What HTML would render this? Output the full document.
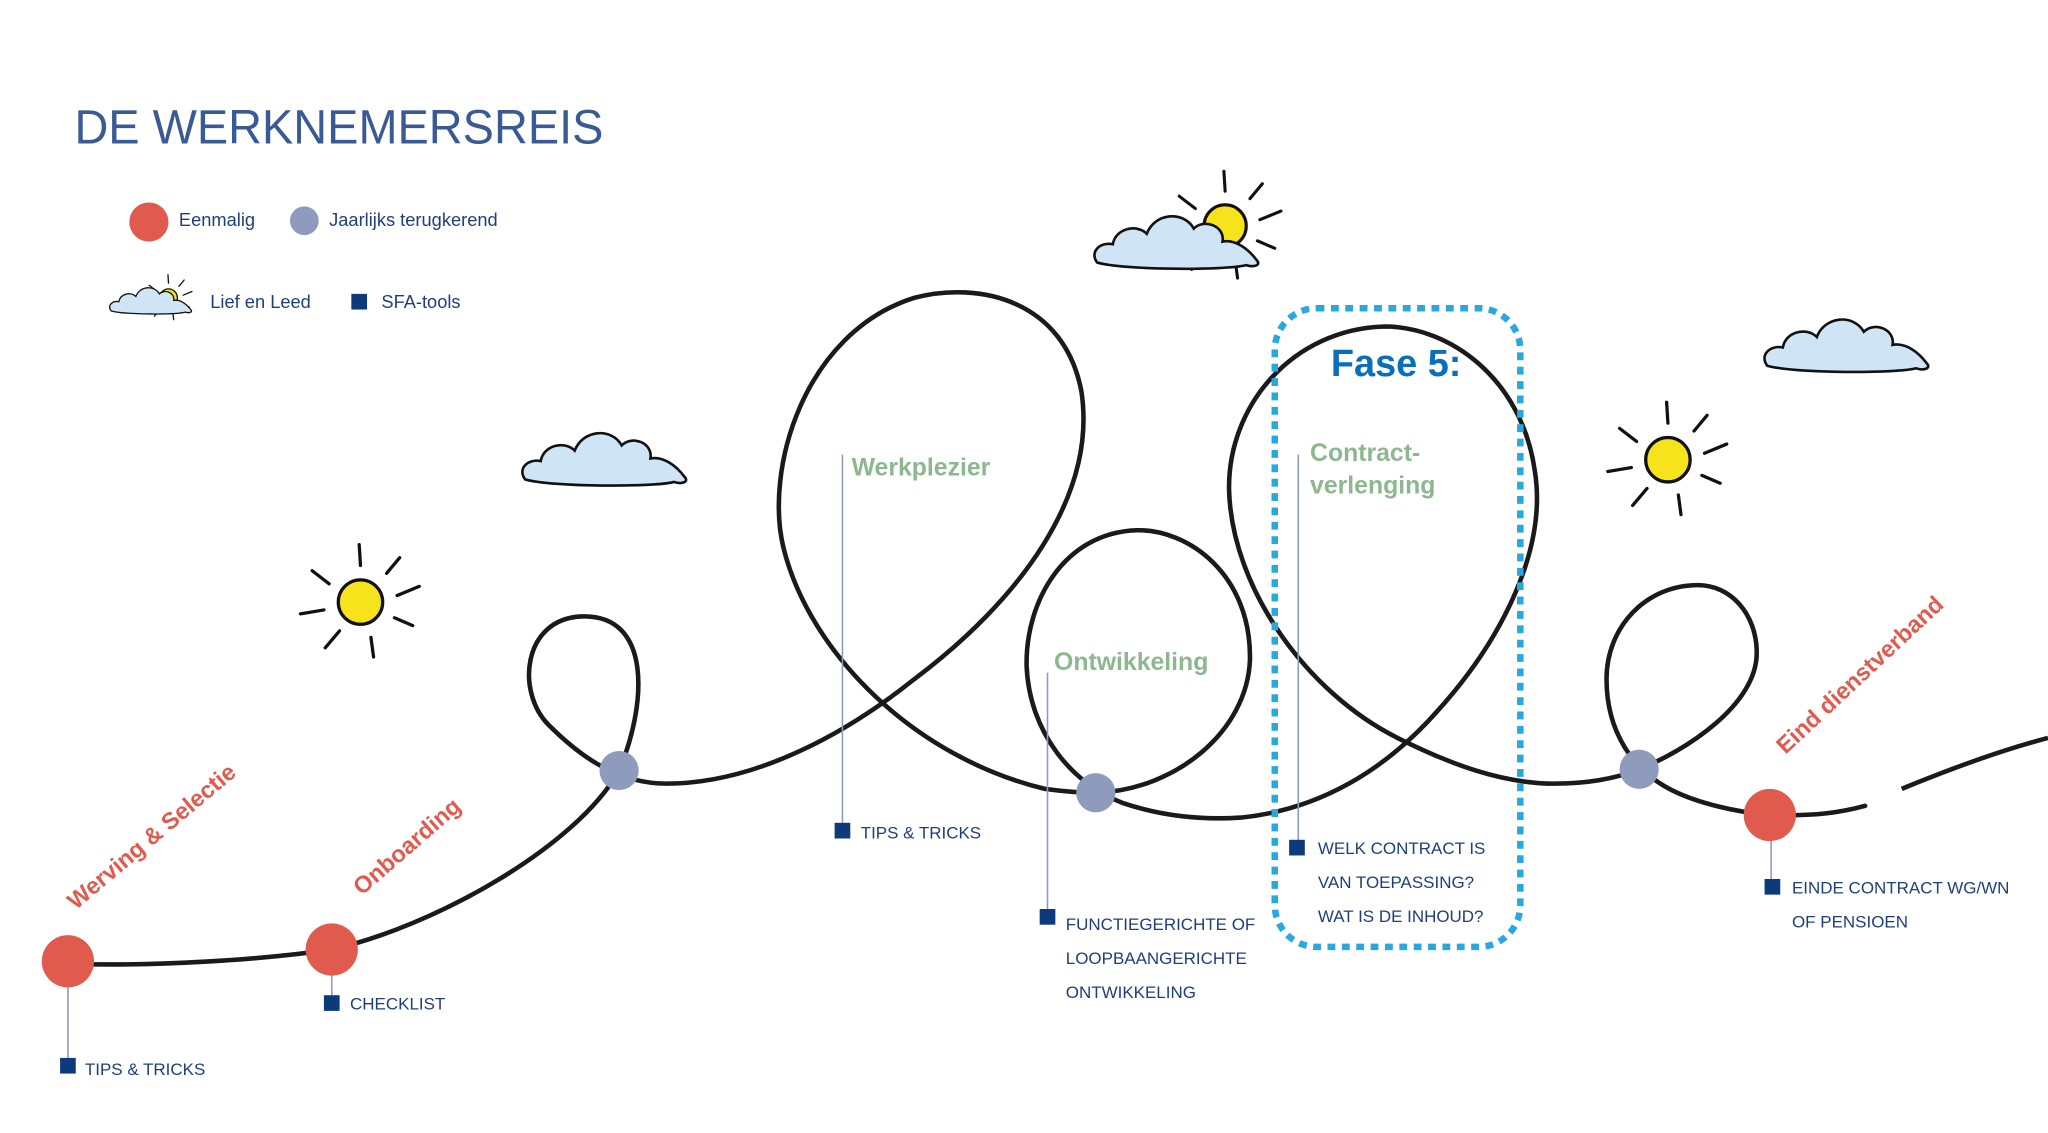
<!DOCTYPE html>
<html><head><meta charset="utf-8"><style>
html,body{margin:0;padding:0;background:#fff;width:2048px;height:1133px;overflow:hidden}
svg{display:block}
text{font-family:"Liberation Sans",sans-serif}
</style></head><body>
<svg width="2048" height="1133" viewBox="0 0 1568 867.5" preserveAspectRatio="none" xmlns="http://www.w3.org/2000/svg">
<defs>
<g id="cloud">
<path d="M-60,12 C-66,4 -58,-4 -48,-2 C-46,-14 -30,-18 -22,-10 C-16,-26 6,-28 14,-14 C22,-22 38,-16 36,-4 C46,-6 56,2 62,10 C66,14 60,16 54,14 C40,18 -40,18 -60,12 Z" fill="#cfe5f5" stroke="#111" stroke-width="2"/>
</g>
<g id="sun">
<circle r="17" fill="#f7e31c" stroke="#111" stroke-width="2.5"/>
<g stroke="#111" stroke-width="2.5" stroke-linecap="round">
<line x1="0" y1="-28" x2="-1" y2="-44"/><line x1="20" y1="-22" x2="30" y2="-34"/>
<line x1="28" y1="-5" x2="45" y2="-12"/><line x1="26" y1="12" x2="40" y2="18"/>
<line x1="8" y1="27" x2="10" y2="42"/><line x1="-16" y1="22" x2="-27" y2="35"/>
<line x1="-28" y1="6" x2="-46" y2="9"/><line x1="-24" y1="-14" x2="-37" y2="-24"/>
</g></g>
</defs>

<text x="57" y="110" font-size="37" fill="#3a5a95" textLength="405" lengthAdjust="spacingAndGlyphs">DE WERKNEMERSREIS</text>

<circle cx="114" cy="170" r="15" fill="#e05a4e"/>
<text x="137" y="173" font-size="14" fill="#1f3f7a">Eenmalig</text>
<circle cx="233" cy="169" r="11" fill="#8f9bbd"/>
<text x="252" y="173" font-size="14" fill="#1f3f7a">Jaarlijks terugkerend</text>
<g transform="translate(115,232) scale(0.5)"><use href="#sun" transform="translate(28,-8) scale(0.8)"/><use href="#cloud"/></g>
<text x="161" y="236" font-size="14" fill="#1f3f7a">Lief en Leed</text>
<rect x="269" y="225" width="12" height="12" fill="#0d3a7a"/>
<text x="292" y="236" font-size="14" fill="#1f3f7a">SFA-tools</text>

<use href="#sun" x="276" y="461"/>
<use href="#sun" x="1277" y="352"/>
<use href="#cloud" transform="translate(462,355)"/>
<use href="#cloud" transform="translate(1413,268)"/>
<g transform="translate(938,173)"><use href="#sun" transform="scale(0.95)"/><use href="#cloud" transform="translate(-38,16)"/></g>

<path fill="none" stroke="#1a1a1a" stroke-width="3.5" stroke-linecap="round" d="M52,738 C120,740 200,735 254,727 C330,710 440,650 474,590 C495,540 500,470 445,472 C400,474 395,530 420,555 C440,575 470,600 510,600 C580,600 650,560 700,520 C780,460 840,380 828,300 C815,230 750,215 700,228 C615,255 585,360 600,420 C620,500 700,580 800,604 C815,606 825,607 839,607 C900,605 955,560 957,505 C958,440 910,405 870,406 C815,408 785,460 786,510 C788,560 820,600 860,615 C890,625 920,628 950,626 C1010,620 1060,590 1100,545 C1150,490 1185,420 1175,360 C1165,290 1110,250 1060,250 C990,252 940,310 941,375 C943,450 1000,530 1070,565 C1110,585 1150,600 1190,600 C1220,600 1240,595 1255,589 C1290,575 1345,540 1345,500 C1345,470 1325,448 1300,448 C1260,448 1230,480 1230,520 C1230,560 1250,590 1280,605 C1300,615 1330,622 1355,624 C1390,625 1410,622 1428,617"/>
<path fill="none" stroke="#1a1a1a" stroke-width="3.5" d="M1456,604 C1490,590 1530,575 1568,565"/>

<rect x="976" y="236" width="188" height="489" rx="32" fill="none" stroke="#29a8e0" stroke-width="5" stroke-dasharray="6 5"/>
<text x="1019" y="288" font-size="29" font-weight="bold" fill="#0a6fba">Fase 5:</text>

<g stroke="#8f9bbd" stroke-width="1.2">
<line x1="52" y1="750" x2="52" y2="812"/><line x1="254" y1="740" x2="254" y2="763"/>
<line x1="645" y1="348" x2="645" y2="631"/><line x1="802" y1="515" x2="802" y2="697"/>
<line x1="994" y1="348" x2="994" y2="644"/><line x1="1356" y1="638" x2="1356" y2="673"/>
</g>

<circle cx="52" cy="736" r="20" fill="#e05a4e"/>
<circle cx="254" cy="727" r="20" fill="#e05a4e"/>
<circle cx="1355" cy="624" r="20" fill="#e05a4e"/>
<circle cx="474" cy="590" r="15" fill="#8f9bbd"/>
<circle cx="839" cy="607" r="15" fill="#8f9bbd"/>
<circle cx="1255" cy="589" r="15" fill="#8f9bbd"/>

<g fill="#8db88f" font-weight="bold" font-size="19">
<text x="652" y="364">Werkplezier</text>
<text x="807" y="513">Ontwikkeling</text>
<text x="1003" y="353">Contract-</text>
<text x="1003" y="378">verlenging</text>
</g>
<g fill="#e05a4e" font-weight="bold" font-size="18">
<text transform="translate(58,697) rotate(-40)">Werving &amp; Selectie</text>
<text transform="translate(277,686) rotate(-41)">Onboarding</text>
<text transform="translate(1367,578) rotate(-43)">Eind dienstverband</text>
</g>

<g fill="#0d3a7a">
<rect x="46" y="810" width="12" height="12"/><rect x="248" y="762" width="12" height="12"/>
<rect x="639" y="630" width="12" height="12"/><rect x="796" y="696" width="12" height="12"/>
<rect x="987" y="643" width="12" height="12"/><rect x="1351" y="673" width="12" height="12"/>
</g>
<g fill="#1f3f7a" font-size="13">
<text x="65" y="823">TIPS &amp; TRICKS</text>
<text x="268" y="773">CHECKLIST</text>
<text x="659" y="642">TIPS &amp; TRICKS</text>
<text x="816" y="712">FUNCTIEGERICHTE OF</text>
<text x="816" y="738">LOOPBAANGERICHTE</text>
<text x="816" y="764">ONTWIKKELING</text>
<text x="1009" y="654">WELK CONTRACT IS</text>
<text x="1009" y="680">VAN TOEPASSING?</text>
<text x="1009" y="706">WAT IS DE INHOUD?</text>
<text x="1372" y="684">EINDE CONTRACT WG/WN</text>
<text x="1372" y="710">OF PENSIOEN</text>
</g>
</svg>
</body></html>
